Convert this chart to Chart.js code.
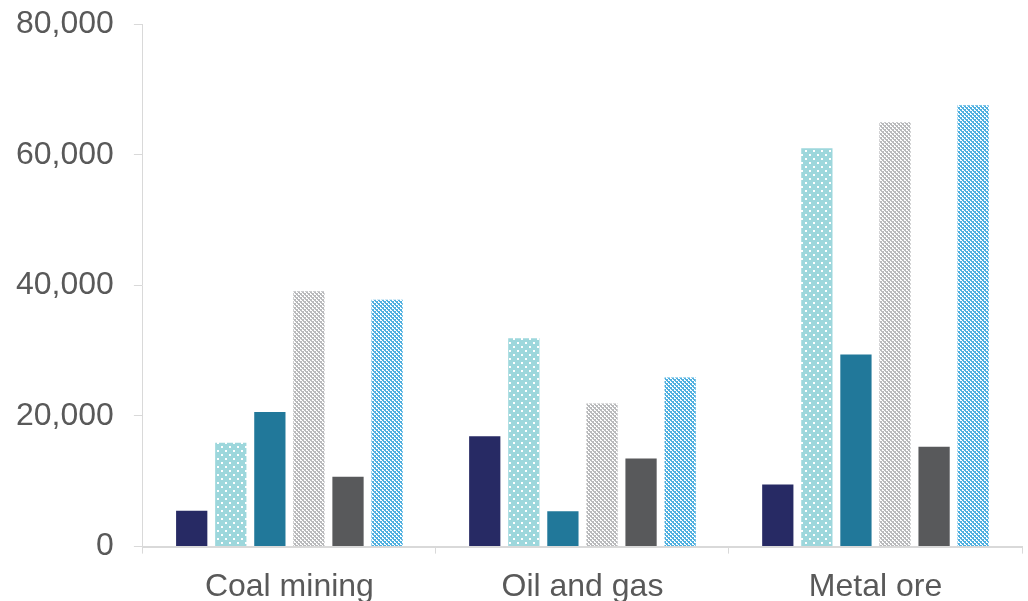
<!DOCTYPE html>
<html>
<head>
<meta charset="utf-8">
<script src="https://cdn.jsdelivr.net/npm/chart.js@4/dist/chart.umd.min.js"></script>
<style>
  html, body { margin: 0; padding: 0; background: #fff; overflow: hidden; }
  #wrap { width: 1028px; height: 601px; overflow: hidden; }
  #chart { display: block; margin-top: -15px; }
</style>
</head>
<body>
<div id="wrap"><canvas id="chart" width="1028" height="616"></canvas></div>
<script>
const categories = ["Coal mining", "Oil and gas", "Metal ore"];
const series1 = [5500, 16900, 9500];
const series2 = [15900, 31900, 61000];
const series3 = [20600, 5400, 29400];
const series4 = [39100, 21900, 65000];
const series5 = [10700, 13500, 15300];
const series6 = [37800, 25900, 67600];
const yTicks = [0, 20000, 40000, 60000, 80000];

// small canvas patterns for the hatched bars
function dotPattern(bg) {
  const c = document.createElement("canvas");
  c.width = 8; c.height = 8;
  const g = c.getContext("2d");
  g.fillStyle = bg;
  g.fillRect(0, 0, 8, 8);
  g.fillStyle = "#ffffff";
  g.fillRect(1, 1, 2, 2);
  g.fillRect(5, 5, 2, 2);
  return g.createPattern(c, "repeat");
}

function checkPattern(bg) {
  const c = document.createElement("canvas");
  c.width = 4; c.height = 4;
  const g = c.getContext("2d");
  g.fillStyle = "#ffffff";
  g.fillRect(0, 0, 4, 4);
  g.fillStyle = bg;
  g.fillRect(0, 0, 2, 2);
  g.fillRect(2, 2, 2, 2);
  g.fillRect(1, 2, 1, 1);
  g.fillRect(3, 0, 1, 1);
  return g.createPattern(c, "repeat");
}

const ctx = document.getElementById("chart").getContext("2d");

new Chart(ctx, {
  type: "bar",
  data: {
    labels: categories,
    datasets: [
      { data: series1, backgroundColor: "#272a64" },
      { data: series2, backgroundColor: dotPattern("#9dd7dc") },
      { data: series3, backgroundColor: "#21789a" },
      { data: series4, backgroundColor: checkPattern("#b9babc") },
      { data: series5, backgroundColor: "#58595b" },
      { data: series6, backgroundColor: checkPattern("#4fb0e0") }
    ]
  },
  options: {
    responsive: false,
    animation: false,
    layout: { padding: { top: -14, right: 6, left: -4, bottom: -19 } },
    datasets: { bar: { categoryPercentage: 0.8, barPercentage: 0.8 } },
    plugins: { legend: { display: false }, tooltip: { enabled: false } },
    scales: {
      x: {
        grid: { drawOnChartArea: false, tickLength: 7, color: "#d9d9d9" },
        border: { color: "#d9d9d9", width: 2 },
        ticks: { color: "#595959", padding: 14, font: { family: "Liberation Sans, Arial", size: 32 } }
      },
      y: {
        min: 0,
        max: 80000,
        afterBuildTicks: axis => { axis.ticks = yTicks.map(v => ({ value: v })); },
        grid: { drawOnChartArea: false, tickLength: 9, color: "#d9d9d9" },
        border: { color: "#d9d9d9", width: 1 },
        ticks: {
          color: "#595959",
          padding: 20,
          font: { family: "Liberation Sans, Arial", size: 32 },
          callback: v => v.toLocaleString("en-US")
        }
      }
    }
  }
});
</script>
</body>
</html>
